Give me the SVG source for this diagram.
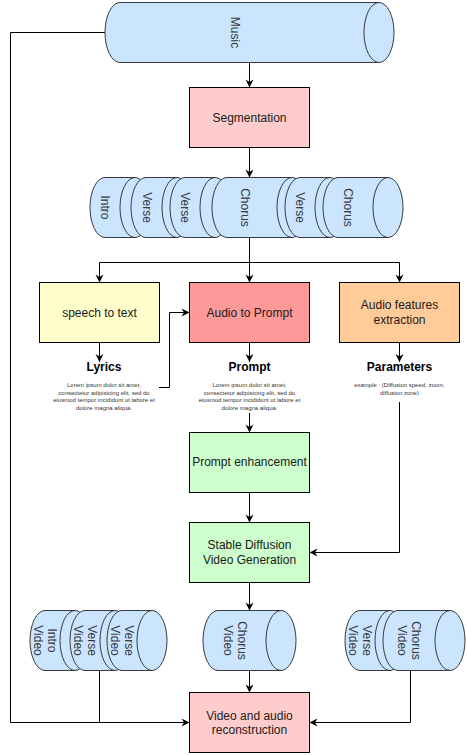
<svg xmlns="http://www.w3.org/2000/svg" width="467" height="755" viewBox="0 0 467 755">
<style>
text{font-family:"Liberation Sans",Arial,Helvetica,sans-serif;font-size:12px;fill:#1a1a1a}
.t{text-anchor:middle}
.rt{text-anchor:middle;dominant-baseline:central;fill:#36393d}
.b{font-weight:bold;fill:#000}
.s{font-size:6px;fill:#333}
.cyl{fill:#cce5ff;stroke:#36393d;stroke-width:1}
.in{fill:none;stroke:#36393d;stroke-width:1}
.box{stroke:#000;stroke-width:1}
.c{fill:none;stroke:#000;stroke-width:1}
.a{marker-end:url(#arr)}
</style>
<defs>
<marker id="arr" viewBox="-9 -5 10 10" refX="0" refY="0" markerWidth="10" markerHeight="10" markerUnits="userSpaceOnUse" orient="auto">
<path d="M0,0 L-8,-4 L-5.5,0 L-8,4 Z" fill="#000"/>
</marker>
</defs>
<rect width="467" height="755" fill="#fff"/>

<g id="connectors">
<path class="c a" d="M249.5,62.5 V87.5"/>
<path class="c a" d="M249.5,147.5 V177.5"/>
<path class="c a" d="M249.5,237.5 V282.5"/>
<path class="c a" d="M249.5,262.5 H99.5 V282.5"/>
<path class="c a" d="M249.5,262.5 H399.5 V282.5"/>
<path class="c a" d="M99.5,342.5 V362"/>
<path class="c a" d="M249.5,342.5 V362"/>
<path class="c a" d="M399.5,342.5 V362"/>
<path class="c a" d="M159,387.5 H169.5 V312.5 H189.5"/>
<path class="c a" d="M249.5,413 V432.5"/>
<path class="c a" d="M249.5,492.5 V522.5"/>
<path class="c a" d="M399.5,402 V552.5 H309.5"/>
<path class="c a" d="M249.5,582.5 V610.5"/>
<path class="c a" d="M249.5,670.5 V692.5"/>
<path class="c a" d="M105,32.5 H10.5 V722.5 H189.5"/>
<path class="c" d="M99.5,670.5 V722.5"/>
<path class="c a" d="M410.5,670.5 V722.5 H309.5"/>
</g>

<g id="music">
<path class="cyl" d="M120,2.5 H379 A15,30 0 0 1 379,62.5 H120 A15,30 0 0 1 120,2.5 Z"/>
<path class="in" d="M379,2.5 A15,30 0 0 0 379,62.5"/>
<text class="rt" transform="translate(234.5,32.5) rotate(90)">Music</text>
</g>

<g id="segmentation">
<rect class="box" x="189.5" y="87.5" width="120" height="60" fill="#ffcccc"/>
<text class="t" x="249.5" y="121.5">Segmentation</text>
</g>

<g id="segments">
<g id="seg-intro">
<path class="cyl" d="M105,177.5 H135 A15,30 0 0 1 135,237.5 H105 A15,30 0 0 1 105,177.5 Z"/>
<path class="in" d="M135,177.5 A15,30 0 0 0 135,237.5"/>
<text class="rt" transform="translate(105,207.5) rotate(90)">Intro</text>
</g>
<g id="seg-verse1">
<path class="cyl" d="M146,177.5 H177 A15,30 0 0 1 177,237.5 H146 A15,30 0 0 1 146,177.5 Z"/>
<path class="in" d="M177,177.5 A15,30 0 0 0 177,237.5"/>
<text class="rt" transform="translate(146.5,207.5) rotate(90)">Verse</text>
</g>
<g id="seg-verse2">
<path class="cyl" d="M185,177.5 H215 A15,30 0 0 1 215,237.5 H185 A15,30 0 0 1 185,177.5 Z"/>
<path class="in" d="M215,177.5 A15,30 0 0 0 215,237.5"/>
<text class="rt" transform="translate(185,207.5) rotate(90)">Verse</text>
</g>
<g id="seg-chorus1">
<path class="cyl" d="M227,177.5 H292 A15,30 0 0 1 292,237.5 H227 A15,30 0 0 1 227,177.5 Z"/>
<path class="in" d="M292,177.5 A15,30 0 0 0 292,237.5"/>
<text class="rt" transform="translate(244.5,207.5) rotate(90)">Chorus</text>
</g>
<g id="seg-verse3">
<path class="cyl" d="M300,177.5 H330 A15,30 0 0 1 330,237.5 H300 A15,30 0 0 1 300,177.5 Z"/>
<path class="in" d="M330,177.5 A15,30 0 0 0 330,237.5"/>
<text class="rt" transform="translate(300,207.5) rotate(90)">Verse</text>
</g>
<g id="seg-chorus2">
<path class="cyl" d="M338,177.5 H388 A15,30 0 0 1 388,237.5 H338 A15,30 0 0 1 338,177.5 Z"/>
<path class="in" d="M388,177.5 A15,30 0 0 0 388,237.5"/>
<text class="rt" transform="translate(348,207.5) rotate(90)">Chorus</text>
</g>
</g>

<g id="speech-to-text">
<rect class="box" x="39.5" y="282.5" width="120" height="60" fill="#ffffcc"/>
<text class="t" x="99.5" y="316.5">speech to text</text>
</g>
<g id="audio-to-prompt">
<rect class="box" x="189.5" y="282.5" width="120" height="60" fill="#ff9999"/>
<text class="t" x="249.5" y="316.5">Audio to Prompt</text>
</g>
<g id="audio-features">
<rect class="box" x="339.5" y="282.5" width="120" height="60" fill="#ffcc99"/>
<text class="t" x="399.5" y="308.5">Audio features</text>
<text class="t" x="399.5" y="323.5">extraction</text>
</g>

<g id="lyrics">
<text class="t b" x="104" y="371">Lyrics</text>
<text class="t s" x="104" y="387">Lorem ipsum dolor sit amet,</text>
<text class="t s" x="104" y="394.5">consectetur adipisicing elit, sed do</text>
<text class="t s" x="104" y="402">eiusmod tempor incididunt ut labore et</text>
<text class="t s" x="104" y="409.5">dolore magna aliqua.</text>
</g>
<g id="prompt">
<text class="t b" x="249.5" y="371">Prompt</text>
<text class="t s" x="249.5" y="387">Lorem ipsum dolor sit amet,</text>
<text class="t s" x="249.5" y="394.5">consectetur adipisicing elit, sed do</text>
<text class="t s" x="249.5" y="402">eiusmod tempor incididunt ut labore et</text>
<text class="t s" x="249.5" y="409.5">dolore magna aliqua.</text>
</g>
<g id="parameters">
<text class="t b" x="399.5" y="371">Parameters</text>
<text class="t s" x="399.5" y="387">example : (Diffusion speed, zoom,</text>
<text class="t s" x="399.5" y="394.5">diffusion zone)</text>
</g>

<g id="prompt-enhancement">
<rect class="box" x="189.5" y="432.5" width="120" height="60" fill="#ccffcc"/>
<text class="t" x="249.5" y="466">Prompt enhancement</text>
</g>
<g id="stable-diffusion">
<rect class="box" x="189.5" y="522.5" width="120" height="60" fill="#ccffcc"/>
<text class="t" x="249.5" y="548.5">Stable Diffusion</text>
<text class="t" x="249.5" y="563.5">Video Generation</text>
</g>

<g id="videos-left">
<g id="intro-video">
<path class="cyl" d="M45,610.5 H75 A15,30 0 0 1 75,670.5 H45 A15,30 0 0 1 45,610.5 Z"/>
<path class="in" d="M75,610.5 A15,30 0 0 0 75,670.5"/>
<text class="rt" transform="translate(45,640.5) rotate(90)"><tspan x="0" y="-7.2">Intro</tspan><tspan x="0" y="7.2">Video</tspan></text>
</g>
<g id="verse-video1">
<path class="cyl" d="M85,610.5 H115 A15,30 0 0 1 115,670.5 H85 A15,30 0 0 1 85,610.5 Z"/>
<path class="in" d="M115,610.5 A15,30 0 0 0 115,670.5"/>
<text class="rt" transform="translate(85,640.5) rotate(90)"><tspan x="0" y="-7.2">Verse</tspan><tspan x="0" y="7.2">Video</tspan></text>
</g>
<g id="verse-video2">
<path class="cyl" d="M122,610.5 H152 A15,30 0 0 1 152,670.5 H122 A15,30 0 0 1 122,610.5 Z"/>
<path class="in" d="M152,610.5 A15,30 0 0 0 152,670.5"/>
<text class="rt" transform="translate(122,640.5) rotate(90)"><tspan x="0" y="-7.2">Verse</tspan><tspan x="0" y="7.2">Video</tspan></text>
</g>
</g>

<g id="chorus-video">
<path class="cyl" d="M218,610.5 H281 A15,30 0 0 1 281,670.5 H218 A15,30 0 0 1 218,610.5 Z"/>
<path class="in" d="M281,610.5 A15,30 0 0 0 281,670.5"/>
<text class="rt" transform="translate(235,640.5) rotate(90)"><tspan x="0" y="-7.2">Chorus</tspan><tspan x="0" y="7.2">Video</tspan></text>
</g>

<g id="videos-right">
<g id="verse-video3">
<path class="cyl" d="M360,610.5 H390 A15,30 0 0 1 390,670.5 H360 A15,30 0 0 1 360,610.5 Z"/>
<path class="in" d="M390,610.5 A15,30 0 0 0 390,670.5"/>
<text class="rt" transform="translate(360,640.5) rotate(90)"><tspan x="0" y="-7.2">Verse</tspan><tspan x="0" y="7.2">Video</tspan></text>
</g>
<g id="chorus-video2">
<path class="cyl" d="M398,610.5 H450 A15,30 0 0 1 450,670.5 H398 A15,30 0 0 1 398,610.5 Z"/>
<path class="in" d="M450,610.5 A15,30 0 0 0 450,670.5"/>
<text class="rt" transform="translate(409,640.5) rotate(90)"><tspan x="0" y="-7.2">Chorus</tspan><tspan x="0" y="7.2">Video</tspan></text>
</g>
</g>

<g id="reconstruction">
<rect class="box" x="189.5" y="692.5" width="120" height="60" fill="#ffcccc"/>
<text class="t" x="249.5" y="719.5">Video and audio</text>
<text class="t" x="249.5" y="734">reconstruction</text>
</g>
</svg>
